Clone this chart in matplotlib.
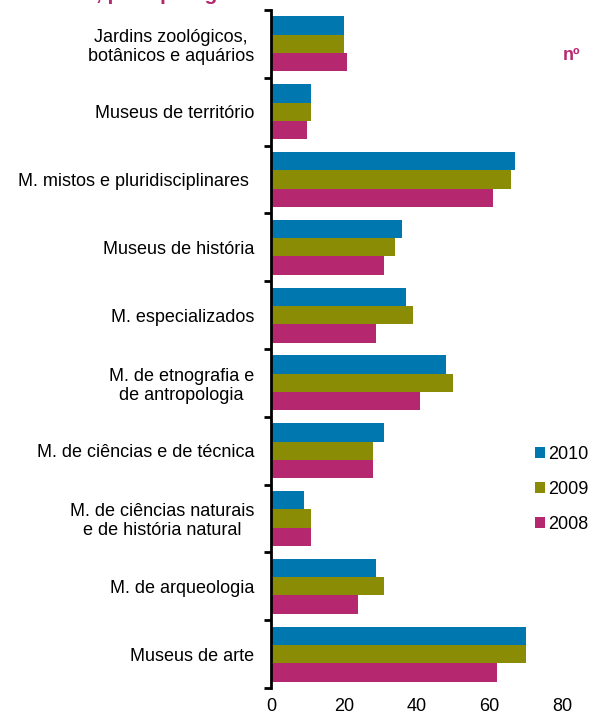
#!/usr/bin/env python3
### plot.py
### museus por tipologia, 2008-2010

import numpy as np
import matplotlib
matplotlib.use('AGG')
import matplotlib.pyplot as plt
from matplotlib.patches import Patch

plt.rcParams['font.family'] = ['Liberation Sans', 'DejaVu Sans']

# Data
categories = [
    'Jardins zoológicos,\nbotânicos e aquários',
    'Museus de território',
    'M. mistos e pluridisciplinares ',
    'Museus de história',
    'M. especializados',
    'M. de etnografia e\nde antropologia',
    'M. de ciências e de técnica',
    'M. de ciências naturais\ne de história natural',
    'M. de arqueologia',
    'Museus de arte',
]
years = ['2010', '2009', '2008']
v2010 = [20, 11, 67, 36, 37, 48, 31, 9, 29, 70]
v2009 = [20, 11, 66, 34, 39, 50, 28, 11, 31, 70]
v2008 = [21, 10, 61, 31, 29, 41, 28, 11, 24, 62]
x_ticks = [0, 20, 40, 60, 80]

COLORS = ['#0077ae', '#8a8c06', '#b5276f']
PINK = '#b5276f'
BAR_H = 0.27

fig = plt.figure(figsize=(5.91, 7.16), dpi=100)
ax = fig.add_axes([271 / 591, 28 / 716, (562 - 271) / 591, (688 - 10) / 716])

pos = np.arange(len(categories))
for k, vals in enumerate([v2010, v2009, v2008]):
    ax.barh(pos + (k - 1) * BAR_H, vals, height=BAR_H, color=COLORS[k],
            edgecolor='none', label=years[k])

ax.set_xlim(0, 80)
ax.set_ylim(len(categories) - 0.5, -0.5)

# y axis: ticks on group boundaries, labels at group centres
ax.set_yticks(np.arange(len(categories) + 1) - 0.5)
ax.set_yticklabels([])
ax.tick_params(axis='y', which='major', length=5, width=2, direction='out')
ax.set_yticks(pos, minor=True)
ax.set_yticklabels(categories, minor=True, fontsize=13, ha='right',
                   multialignment='center', linespacing=1.15)
ax.tick_params(axis='y', which='minor', length=0, pad=12)

ax.set_xticks(x_ticks)
ax.set_xticklabels([str(t) for t in x_ticks], fontsize=13)
ax.tick_params(axis='x', length=0, pad=7)

for side in ['top', 'right', 'bottom']:
    ax.spines[side].set_visible(False)
ax.spines['left'].set_linewidth(2)

handles = [Patch(facecolor=c, edgecolor='none') for c in COLORS]
fig.legend(handles, years, loc='upper left', bbox_to_anchor=(526 / 591, 1 - 437 / 716),
           frameon=False, fontsize=13, handlelength=0.55, handleheight=0.55,
           handletextpad=0.2, labelspacing=1.0, borderpad=0)

fig.text(572 / 591, 1 - 56 / 716, 'nº', color=PINK, fontsize=13, fontweight='bold',
         ha='center', va='center')
fig.text(235 / 591, 1.0, 'Museus, por tipologia', color=PINK, fontsize=15,
         fontweight='bold', ha='right', va='baseline')

fig.savefig('out.png', format='png')
